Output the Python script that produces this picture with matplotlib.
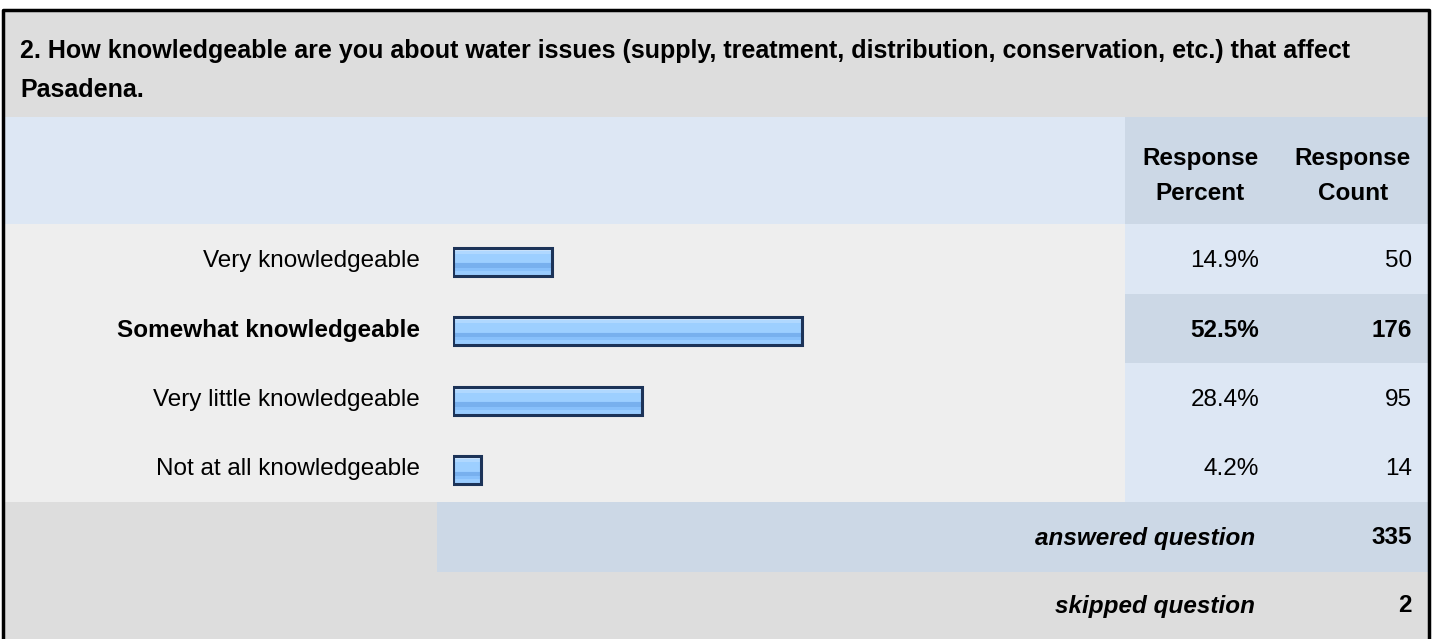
import matplotlib.pyplot as plt
from matplotlib.patches import Rectangle

plt.rcParams['font.family'] = ['Liberation Sans', 'DejaVu Sans']

# Survey data
question = ("2. How knowledgeable are you about water issues (supply, treatment, distribution, conservation, etc.) that affect\n"
            "Pasadena.")
answers = ["Very knowledgeable", "Somewhat knowledgeable", "Very little knowledgeable", "Not at all knowledgeable"]
percents = [14.9, 52.5, 28.4, 4.2]
counts = [50, 176, 95, 14]
answered = 335
skipped = 2
highlight = 1  # row shown in bold

W, H = 1435, 639
fig = plt.figure(figsize=(W / 100, H / 100), dpi=100)
bg = fig.add_axes([0, 0, 1, 1])
bg.set_xlim(0, W)
bg.set_ylim(H, 0)
bg.axis('off')

L, R = 3, 1429
col_x = 1125
row_top = 224
row_h = 69.5
rows_bottom = row_top + row_h * len(answers)


def box(x0, y0, x1, y1, c):
    bg.add_patch(Rectangle((x0, y0), x1 - x0, y1 - y0, facecolor=c, edgecolor='none', zorder=0))


# background bands
box(L, 10, R, 117, '#dddddd')
box(L, 117, col_x, row_top, '#dde7f4')
box(col_x, 117, R, row_top, '#ccd8e6')
for i in range(len(answers)):
    y0 = row_top + i * row_h
    box(L, y0, col_x, y0 + row_h, '#eeeeee')
    box(col_x, y0, R, y0 + row_h, '#ccd8e6' if i == highlight else '#dde7f4')
box(L, rows_bottom, 437, rows_bottom + 70, '#dddddd')
box(437, rows_bottom, R, rows_bottom + 70, '#ccd8e6')
box(L, rows_bottom + 70, R, H, '#dddddd')

# outer border
bg.plot([L, L, R, R], [H + 5, 10, 10, H + 5], color='black', lw=2.5, zorder=5, clip_on=False)

fs = 17.5
bg.text(20, 39, question, fontsize=18, fontweight='bold', va='top', ha='left', linespacing=1.8)
for x, lbl in [(1200, "Response\nPercent"), (1353, "Response\nCount")]:
    bg.text(x, 176, lbl, fontsize=fs, fontweight='bold', ha='center', va='center', linespacing=1.7)

for i, (a, p, c) in enumerate(zip(answers, percents, counts)):
    yc = row_top + (i + 0.5) * row_h + 2
    w = 'bold' if i == highlight else 'normal'
    bg.text(420, yc, a, fontsize=fs, fontweight=w, ha='right', va='center')
    bg.text(1259, yc, f"{p}%", fontsize=fs, fontweight=w, ha='right', va='center')
    bg.text(1412, yc, str(c), fontsize=fs, fontweight=w, ha='right', va='center')

bg.text(1255, rows_bottom + 36, "answered question", fontsize=fs, fontweight='bold', style='italic', ha='right', va='center')
bg.text(1412, rows_bottom + 36, str(answered), fontsize=fs, fontweight='bold', ha='right', va='center')
bg.text(1255, rows_bottom + 104, "skipped question", fontsize=fs, fontweight='bold', style='italic', ha='right', va='center')
bg.text(1412, rows_bottom + 104, str(skipped), fontsize=fs, fontweight='bold', ha='right', va='center')

# bar axes (shifted slightly down to match the bar centres)
ax = fig.add_axes([453 / W, 1 - (rows_bottom + 3) / H, 665 / W, (rows_bottom - row_top) / H])
ax.set_xlim(0, 100)
ax.set_ylim(len(answers) - 0.5, -0.5)
ax.axis('off')
ax.patch.set_alpha(0)

ypos = list(range(len(answers)))
bh = 0.40
ax.barh(ypos, percents, height=bh, color='#99ccff', edgecolor='none')
# glossy stripes: (offset from top as fraction, thickness fraction, colour)
stripes = [(0.0, 0.10, '#cce5ff'), (0.10, 0.12, '#b0d8ff'), (0.22, 0.30, '#9dcfff'),
           (0.55, 0.17, '#78b0ee'), (0.72, 0.10, '#88c0fb'), (0.82, 0.18, '#99ccff')]
for off, th, c in stripes:
    yy = [y - bh / 2 + bh * (off + th / 2) for y in ypos]
    ax.barh(yy, percents, height=bh * th, color=c, edgecolor='none')
ax.barh(ypos, percents, height=bh, fill=False, edgecolor='#1c3358', linewidth=2.2)

fig.savefig('out.png', dpi=100)
